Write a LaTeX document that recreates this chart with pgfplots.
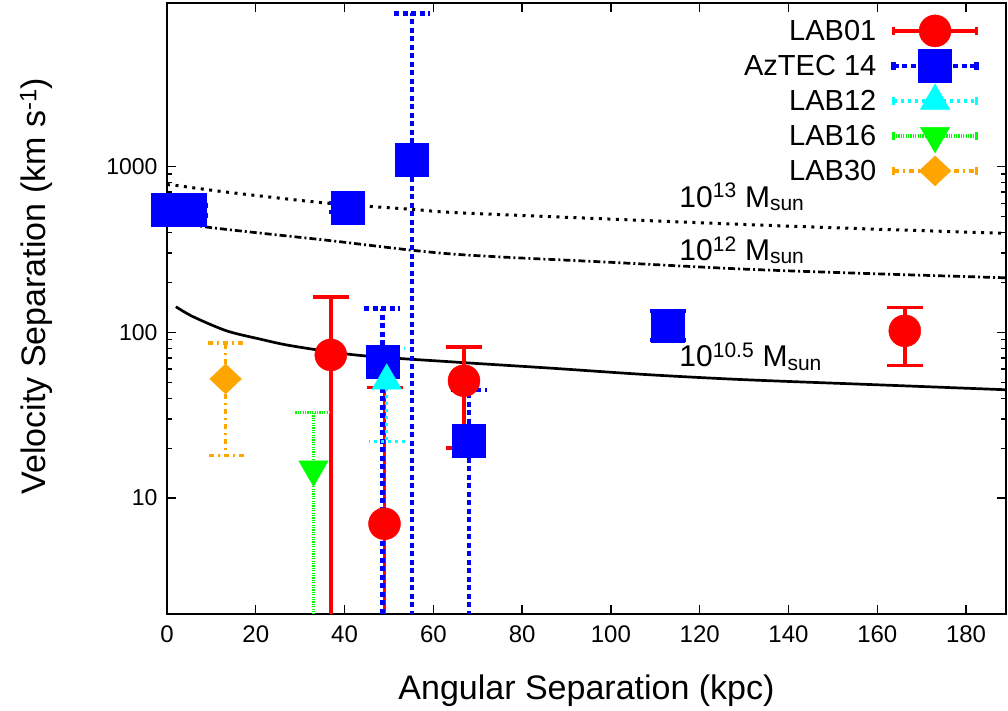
\documentclass[border=0pt]{standalone}
\usepackage{pgfplots}
\pgfplotsset{compat=1.18}
\usepackage{fontspec}
\setmainfont{Liberation Sans}
\definecolor{myorange}{RGB}{255,165,0}
\definecolor{mycyan}{RGB}{0,255,255}
\definecolor{mygreen}{RGB}{0,255,0}
\definecolor{myblue}{RGB}{0,0,255}
\definecolor{myred}{RGB}{255,0,0}
\begin{document}
\begin{tikzpicture}
\begin{axis}[name=ax,
  scale only axis, width=839pt, height=610.5pt,
  xmin=0, xmax=189, ymin=2, ymax=9600, ymode=log,
  log ticks with fixed point,
  /pgf/number format/1000 sep={},
  /pgf/number format/assume math mode=true,
  xtick={0,20,...,180}, ytick={10,100,1000},
  minor x tick num=0,
  tick align=inside,
  major tick length=9pt, minor tick length=5pt,
  every tick/.style={black, line width=1.3pt},
  axis line style={line width=2pt},
  x tick label style={font=\fontsize{24}{24}\selectfont, yshift=-8pt},
  y tick label style={font=\fontsize{23}{23}\selectfont, xshift=-6pt},
  xlabel={Angular Separation (kpc)},
  ylabel={Velocity Separation (km s\textsuperscript{-1})},
  xlabel style={font=\fontsize{34}{34}\selectfont, at={(axis description cs:0.5,-0.1408)}, anchor=base},
  ylabel style={font=\fontsize{34}{34}\selectfont, at={(axis description cs:-0.156,0.537)}, anchor=center},
  legend cell align=right,
  legend plot pos=right,
  legend style={draw=none, fill=none, at={(axis description cs:1,1)}, anchor=north east, xshift=-27pt, yshift=-9.7pt, inner sep=0pt, column sep=15pt, row sep=0pt, font=\fontsize{29}{29}\selectfont, nodes={inner sep=0pt, text height=27pt, text depth=8pt}},
]
% mass curves
\addplot[forget plot, black, line width=2.7pt, smooth] coordinates {
(2.0,142.5) (5.9,124) (13.4,102) (20.9,91) (28.4,82.5) (43.4,72.5) (65.2,66.0) (86.2,60.8) (108.7,55.4) (130.4,51.7) (160,48.2) (188.9,45.0)};
\addplot[forget plot, black, line width=3pt, dash pattern=on 3pt off 5.5pt, smooth] coordinates {
(0,775) (2.0,768) (13.4,700) (35.9,601) (55.2,551) (65.2,526) (100,481) (130.4,446) (160,418) (188.9,395)};
\addplot[forget plot, black, line width=2.7pt, dash pattern=on 7pt off 3pt on 2pt off 3pt, smooth] coordinates {
(2,475) (8.9,431) (35.9,359) (63.7,297) (100,264) (130.4,240) (160,225) (188.9,213)};

% LAB01
\addplot[only marks, mark=*, mark size=16pt, myred, mark options={solid, fill=myred, draw=myred, line width=0.4pt},
  legend image code/.code={
    \draw[myred, line width=3.5pt] (0pt,0pt) -- (83pt,0pt);
    \draw[myred, line width=3.5pt] (0pt,-4pt) -- (0pt,4pt) (83pt,-4pt) -- (83pt,4pt);
    \fill[myred] (41.5pt,0pt) circle[radius=16pt];},
  error bars/.cd, y dir=both, y explicit, error mark=|,
  error bar style={myred, line width=3.5pt, solid},
  error mark options={myred, line width=3.5pt, mark size=18pt, solid}]
  table[x=x, y=y, y error plus=ep, y error minus=em] {
x y ep em
36.9 73 90 72
49.0 7.0 39.3 6.0
66.9 51 30.7 31
166.2 102 38.6 39
};
\addlegendentry{LAB01}

% AzTEC 14
\addplot[only marks, mark=square*, mark size=16.5pt, myblue, mark options={solid, fill=myblue, draw=myblue, line width=0.4pt},
  legend image code/.code={
    \draw[myblue, line width=4.5pt, dash pattern=on 5pt off 3.5pt] (0pt,0pt) -- (83pt,0pt);
    \draw[myblue, line width=4.5pt] (0pt,-4pt) -- (0pt,4pt) (83pt,-4pt) -- (83pt,4pt);
    \fill[myblue] (25pt,-16.5pt) rectangle (58pt,16.5pt);},
  error bars/.cd, y dir=both, y explicit, error mark=|,
  error bar style={myblue, line width=4.5pt, dash pattern=on 5pt off 3.5pt},
  error mark options={myblue, line width=4.5pt, mark size=18pt, dash pattern=on 5pt off 3.5pt}]
  table[x=x, y=y, y error plus=ep, y error minus=em] {
x y ep em
0.1 550 30 30
5.2 546 36 39
40.6 564 37 33
55.2 1091 7289 1090
48.5 66 73 65
68.0 22.1 22.7 21.1
112.9 110 24 20
};
\addlegendentry{AzTEC 14}

% LAB12
\addplot[only marks, mark=triangle*, mark size=17pt, mycyan, mark options={solid, fill=mycyan, draw=mycyan, line width=0.4pt},
  legend image code/.code={
    \draw[mycyan, line width=3.5pt, dash pattern=on 3pt off 4pt] (0pt,0pt) -- (83pt,0pt);
    \draw[mycyan, line width=3.5pt] (0pt,-4pt) -- (0pt,4pt) (83pt,-4pt) -- (83pt,4pt);
    \fill[mycyan] (41.5pt,17pt) -- (26.8pt,-8.5pt) -- (56.2pt,-8.5pt) -- cycle;},
  error bars/.cd, y dir=both, y explicit, error mark=|,
  error bar style={mycyan, line width=3.5pt, dash pattern=on 3pt off 4pt},
  error mark options={mycyan, line width=3.5pt, mark size=18pt, dash pattern=on 3pt off 4pt}]
  table[x=x, y=y, y error plus=ep, y error minus=em] {
x y ep em
49.5 51 28.6 29
};
\addlegendentry{LAB12}

% LAB16
\addplot[only marks, mark=triangle*, mark size=17pt, mygreen, mark options={solid, fill=mygreen, draw=mygreen, line width=0.4pt, rotate=180},
  legend image code/.code={
    \draw[mygreen, line width=3.5pt, dash pattern=on 1.2pt off 1.2pt] (0pt,0pt) -- (83pt,0pt);
    \draw[mygreen, line width=3.5pt] (0pt,-4pt) -- (0pt,4pt) (83pt,-4pt) -- (83pt,4pt);
    \fill[mygreen] (41.5pt,-17pt) -- (26.8pt,8.5pt) -- (56.2pt,8.5pt) -- cycle;},
  error bars/.cd, y dir=both, y explicit, error mark=|,
  error bar style={mygreen, line width=3.5pt, dash pattern=on 1.2pt off 1.2pt},
  error mark options={mygreen, line width=3.5pt, mark size=18pt, dash pattern=on 1.2pt off 1.2pt}]
  table[x=x, y=y, y error plus=ep, y error minus=em] {
x y ep em
33.0 14.9 18.0 13.9
};
\addlegendentry{LAB16}

% LAB30
\addplot[only marks, mark=diamond*, mark size=15pt, myorange, mark options={solid, fill=myorange, draw=myorange, line width=0.4pt, xscale=1.41},
  legend image code/.code={
    \draw[myorange, line width=3.5pt, dash pattern=on 5pt off 4pt on 2pt off 4pt] (0pt,0pt) -- (83pt,0pt);
    \draw[myorange, line width=3.5pt] (0pt,-4pt) -- (0pt,4pt) (83pt,-4pt) -- (83pt,4pt);
    \fill[myorange] (41.5pt,15pt) -- (57.35pt,0pt) -- (41.5pt,-15pt) -- (25.65pt,0pt) -- cycle;},
  error bars/.cd, y dir=both, y explicit, error mark=|,
  error bar style={myorange, line width=3.5pt, dash pattern=on 5pt off 4pt on 2pt off 4pt},
  error mark options={myorange, line width=3.5pt, mark size=18pt, dash pattern=on 5pt off 4pt on 2pt off 4pt}]
  table[x=x, y=y, y error plus=ep, y error minus=em] {
x y ep em
13.2 52.3 33.7 34.3
};
\addlegendentry{LAB30}

\node[anchor=base west, font=\fontsize{30}{30}\selectfont, inner sep=0pt] at (axis cs:115.4,569) {10\textsuperscript{13} M\textsubscript{sun}};
\node[anchor=base west, font=\fontsize{30}{30}\selectfont, inner sep=0pt] at (axis cs:115.4,272) {10\textsuperscript{12} M\textsubscript{sun}};
\node[anchor=base west, font=\fontsize{30}{30}\selectfont, inner sep=0pt] at (axis cs:115.4,62) {10\textsuperscript{10.5} M\textsubscript{sun}};
\end{axis}
\pgfresetboundingbox
\path (ax.south west) ++(-167pt,-97pt) rectangle ++(1008pt,711pt);
\end{tikzpicture}
\end{document}
